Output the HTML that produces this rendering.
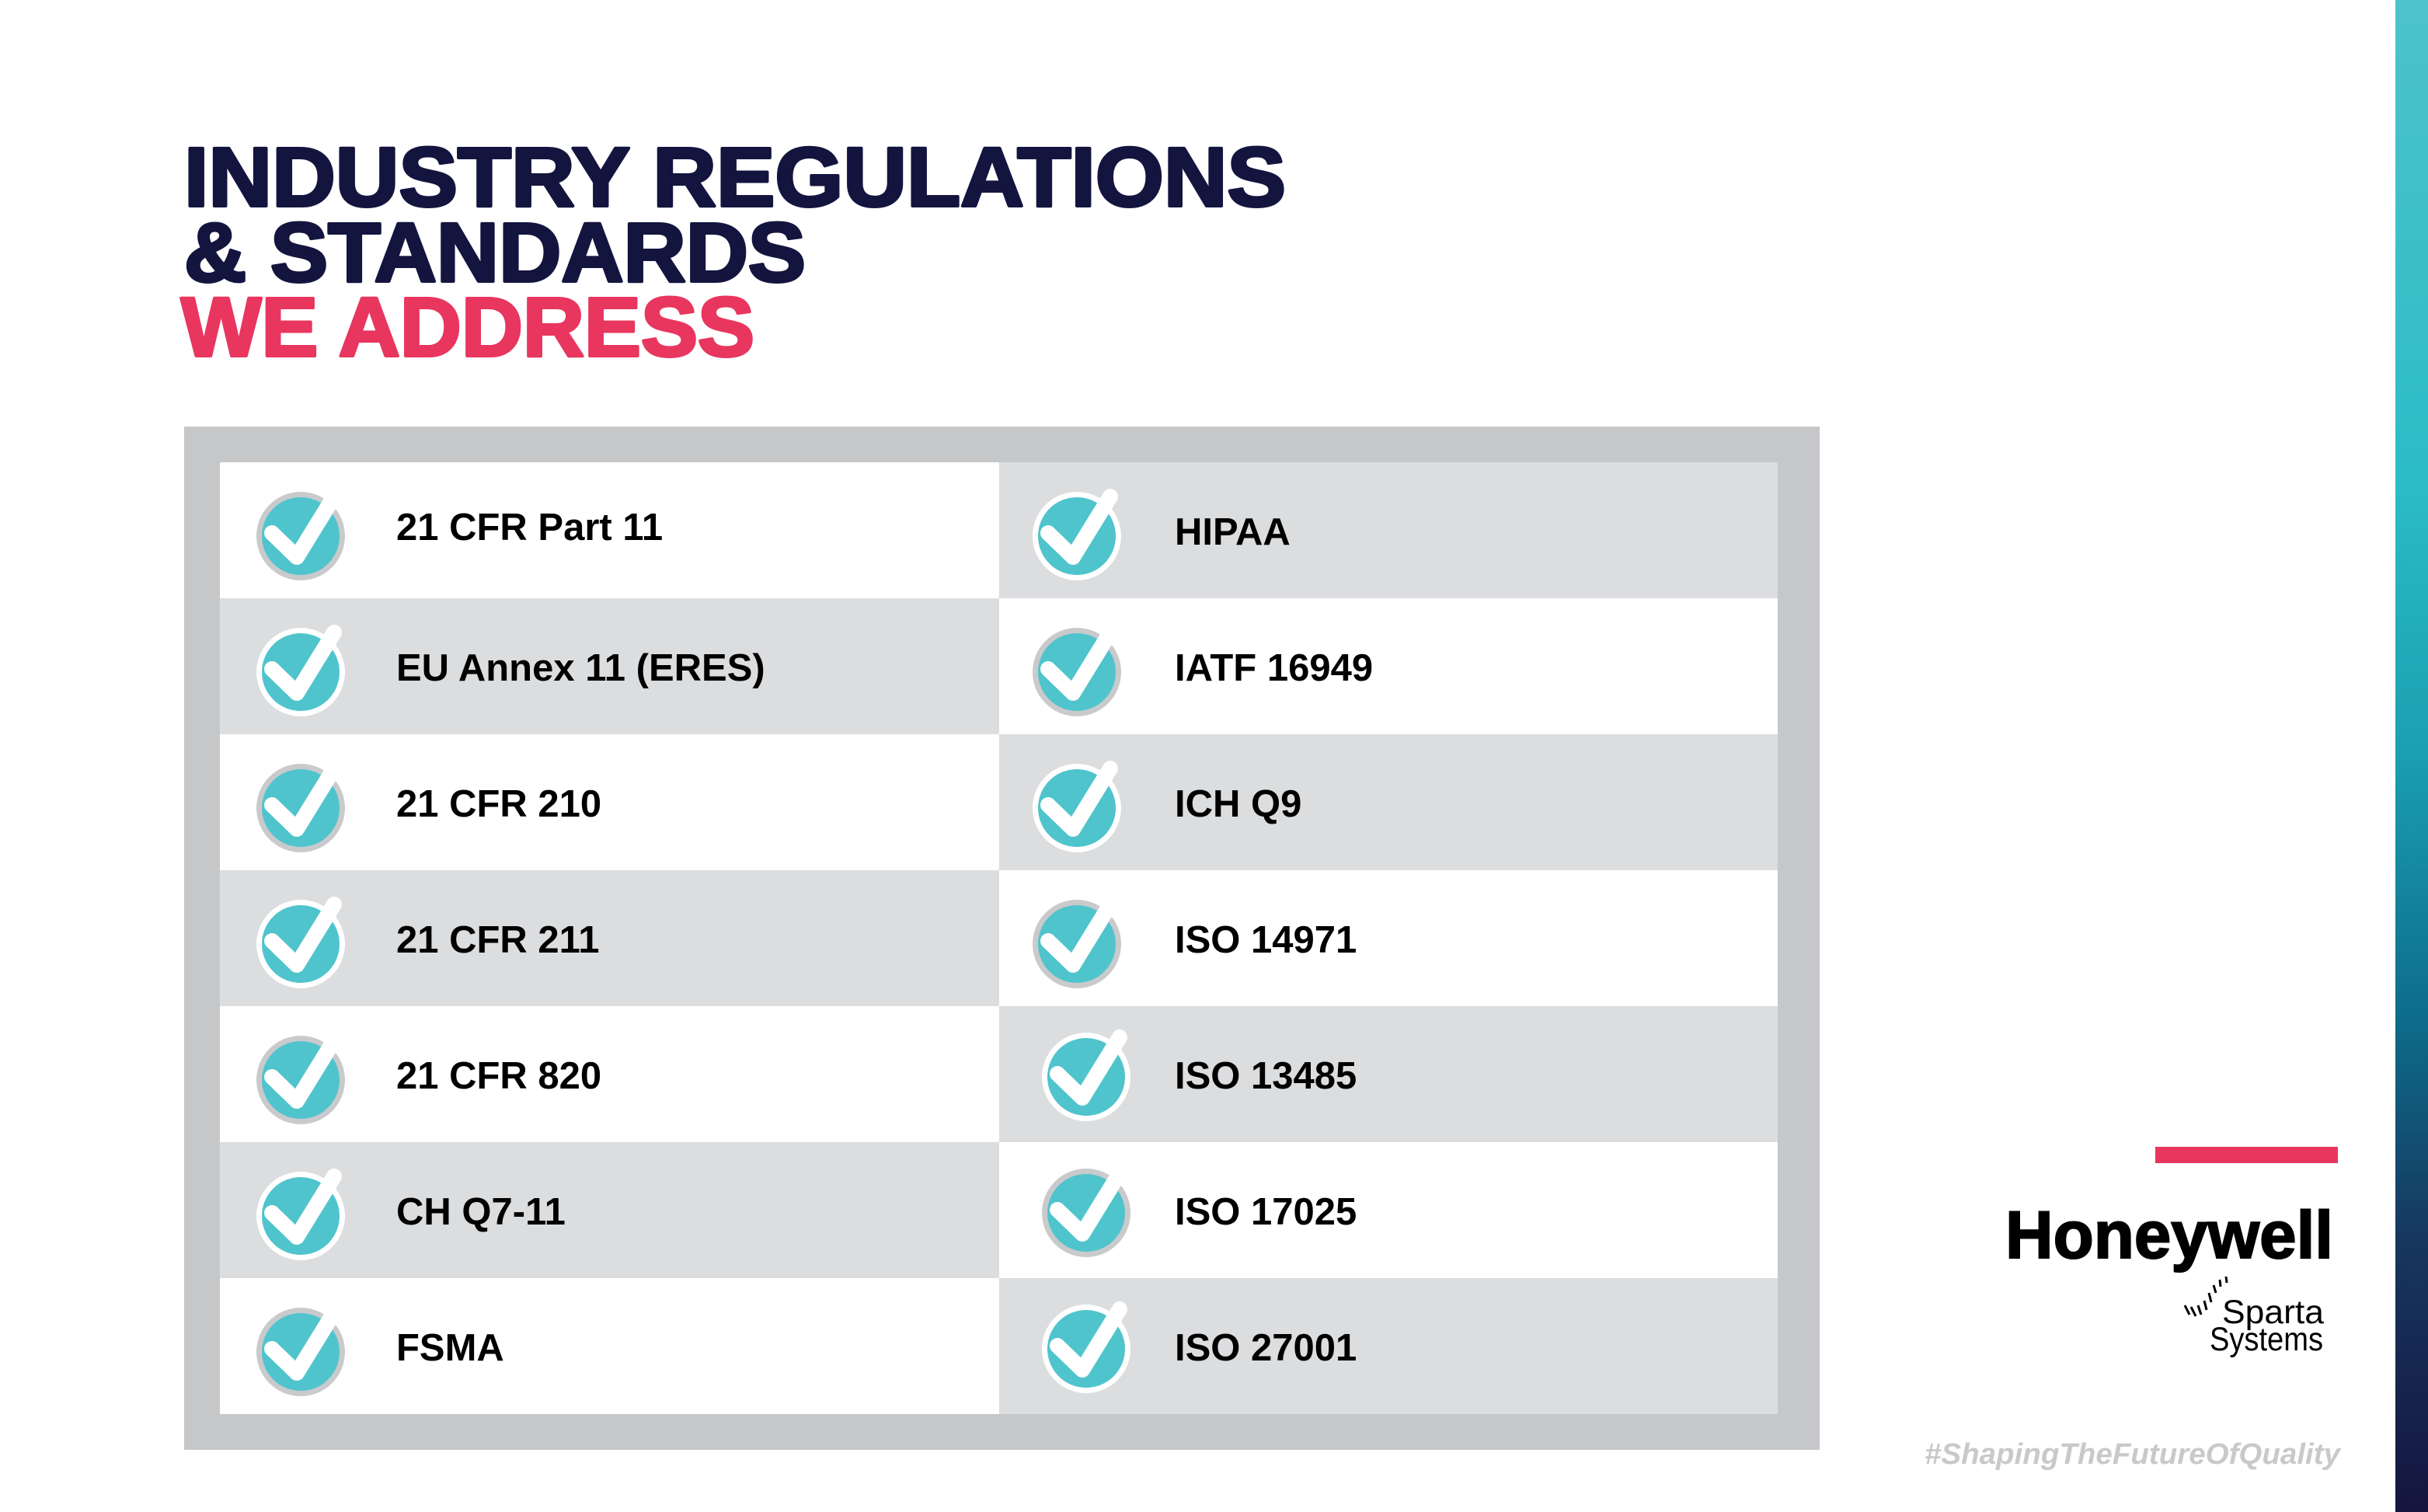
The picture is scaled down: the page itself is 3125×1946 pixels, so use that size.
<!DOCTYPE html>
<html><head><meta charset="utf-8"><style>
html,body{margin:0;padding:0;background:#fff;}
svg{display:block;}
text{font-family:"Liberation Sans",Arial,sans-serif;}
</style></head><body>
<svg width="3125" height="1946" viewBox="0 0 3125 1946" xmlns="http://www.w3.org/2000/svg">
<defs>
<linearGradient id="bar" x1="0" y1="0" x2="0" y2="1">
<stop offset="0" stop-color="#4dc3cb"/>
<stop offset="0.32" stop-color="#2bbcc6"/>
<stop offset="0.5" stop-color="#1a9fb0"/>
<stop offset="0.68" stop-color="#0d6a88"/>
<stop offset="0.82" stop-color="#17375f"/>
<stop offset="1" stop-color="#15153f"/>
</linearGradient>
<g id="chkG">
<circle r="57" fill="#c9cacc"/><circle r="50" fill="#4fc4cc"/>
<polyline points="-37,-4 -5,27 43,-51" fill="none" stroke="#fff" stroke-width="20" stroke-linecap="round" stroke-linejoin="round"/>
</g>
<g id="chkW">
<circle r="57" fill="#fff"/><circle r="50" fill="#4fc4cc"/>
<polyline points="-37,-4 -5,27 43,-51" fill="none" stroke="#fff" stroke-width="20" stroke-linecap="round" stroke-linejoin="round"/>
</g>
</defs>
<rect x="3083" y="0" width="42" height="1946" fill="url(#bar)"/>

<g font-weight="bold" stroke-width="4" stroke-linejoin="round">
<text x="237" y="265" font-size="108" fill="#13153f" stroke="#13153f" textLength="1418" lengthAdjust="spacingAndGlyphs">INDUSTRY REGULATIONS</text>
<text x="237" y="362" font-size="108" fill="#13153f" stroke="#13153f" textLength="800" lengthAdjust="spacingAndGlyphs">&amp; STANDARDS</text>
<text x="233" y="458" font-size="108" fill="#e8365f" stroke="#e8365f" textLength="738" lengthAdjust="spacingAndGlyphs">WE ADDRESS</text>
</g>

<rect x="237" y="549" width="2105" height="1317" fill="#c6c7c9"/>
<!-- left column -->
<rect x="283" y="595" width="1003" height="175" fill="#fff"/>
<rect x="283" y="770" width="1003" height="175" fill="#dcdddf"/>
<rect x="283" y="945" width="1003" height="175" fill="#fff"/>
<rect x="283" y="1120" width="1003" height="175" fill="#dcdddf"/>
<rect x="283" y="1295" width="1003" height="175" fill="#fff"/>
<rect x="283" y="1470" width="1003" height="175" fill="#dcdddf"/>
<rect x="283" y="1645" width="1003" height="175" fill="#fff"/>
<!-- right column -->
<rect x="1286" y="595" width="1002" height="175" fill="#dcdddf"/>
<rect x="1286" y="770" width="1002" height="175" fill="#fff"/>
<rect x="1286" y="945" width="1002" height="175" fill="#dcdddf"/>
<rect x="1286" y="1120" width="1002" height="175" fill="#fff"/>
<rect x="1286" y="1295" width="1002" height="175" fill="#dcdddf"/>
<rect x="1286" y="1470" width="1002" height="175" fill="#fff"/>
<rect x="1286" y="1645" width="1002" height="175" fill="#dcdddf"/>

<use href="#chkG" x="387" y="690"/>
<use href="#chkW" x="387" y="865"/>
<use href="#chkG" x="387" y="1040"/>
<use href="#chkW" x="387" y="1215"/>
<use href="#chkG" x="387" y="1390"/>
<use href="#chkW" x="387" y="1565"/>
<use href="#chkG" x="387" y="1740"/>

<use href="#chkW" x="1386" y="690"/>
<use href="#chkG" x="1386" y="865"/>
<use href="#chkW" x="1386" y="1040"/>
<use href="#chkG" x="1386" y="1215"/>
<use href="#chkW" x="1398" y="1386"/>
<use href="#chkG" x="1398" y="1561"/>
<use href="#chkW" x="1398" y="1736"/>

<g font-weight="bold" font-size="49" fill="#000">
<text x="510" y="695">21 CFR Part 11</text>
<text x="510" y="876">EU Annex 11 (ERES)</text>
<text x="510" y="1051">21 CFR 210</text>
<text x="510" y="1226">21 CFR 211</text>
<text x="510" y="1401">21 CFR 820</text>
<text x="510" y="1576">CH Q7-11</text>
<text x="510" y="1751">FSMA</text>
<text x="1512" y="701">HIPAA</text>
<text x="1512" y="876">IATF 16949</text>
<text x="1512" y="1051">ICH Q9</text>
<text x="1512" y="1226">ISO 14971</text>
<text x="1512" y="1401">ISO 13485</text>
<text x="1512" y="1576">ISO 17025</text>
<text x="1512" y="1751">ISO 27001</text>
</g>

<rect x="2774" y="1476" width="235" height="21" fill="#e8365f"/>
<text x="2581" y="1619" font-size="86" font-weight="bold" fill="#000" stroke="#000" stroke-width="2" textLength="422" lengthAdjust="spacingAndGlyphs">Honeywell</text>
<g stroke="#000" stroke-width="3">
<line x1="2812" y1="1680" x2="2818" y2="1692"/>
<line x1="2820" y1="1682" x2="2826" y2="1694"/>
<line x1="2829" y1="1680" x2="2833" y2="1692"/>
<line x1="2837" y1="1674" x2="2840" y2="1686"/>
<line x1="2843" y1="1664" x2="2846" y2="1676"/>
<line x1="2849" y1="1654" x2="2852" y2="1664"/>
<line x1="2857" y1="1647" x2="2858" y2="1656"/>
<line x1="2865" y1="1643" x2="2866" y2="1651"/>
</g>
<text x="2860" y="1703" font-size="43" fill="#000" textLength="131" lengthAdjust="spacingAndGlyphs">Sparta</text>
<text x="2844" y="1738" font-size="43" fill="#000" textLength="146" lengthAdjust="spacingAndGlyphs">Systems</text>
<text x="2477" y="1884" font-size="38" font-weight="bold" font-style="italic" fill="#c8c9cb" textLength="535" lengthAdjust="spacingAndGlyphs">#ShapingTheFutureOfQuality</text>
</svg>
</body></html>
